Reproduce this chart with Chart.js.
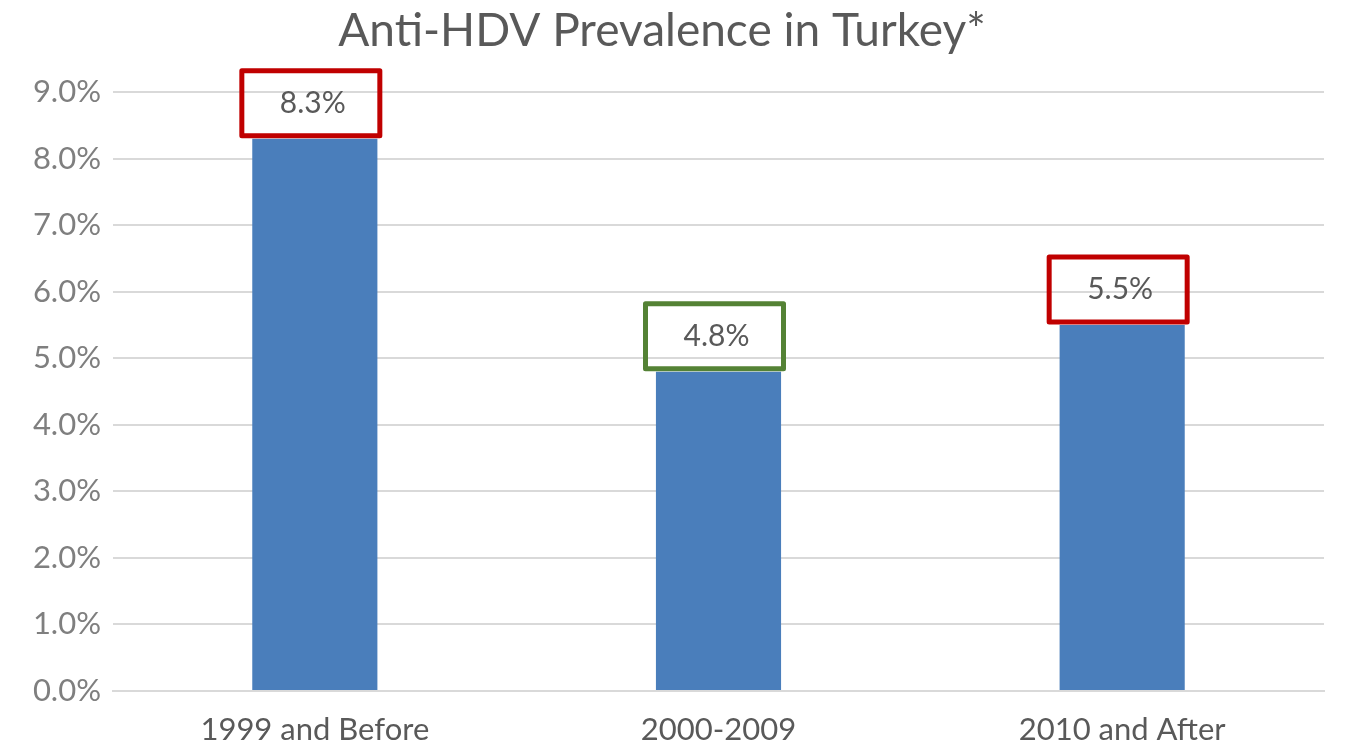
<!DOCTYPE html>
<html>
<head>
<meta charset="utf-8">
<script src="https://cdn.jsdelivr.net/npm/chart.js@4.4.0/dist/chart.umd.min.js"></script>
<style>
html,body{margin:0;padding:0;background:#fff;}
#wrap{width:1345px;height:749px;}
</style>
</head>
<body>
<div id="wrap"><canvas id="c" width="1345" height="749"></canvas></div>
<script>
const categories = ["1999 and Before", "2000-2009", "2010 and After"];
const prevalence = [8.3, 4.8, 5.5];
const boxColors = ["#c00000", "#548235", "#c00000"];
const titleText = "Anti-HDV Prevalence in Turkey*";

const labelBoxes = {
  id: 'labelBoxes',
  afterDatasetsDraw(chart) {
    const ctx = chart.ctx;
    const meta = chart.getDatasetMeta(0);
    const ys = chart.scales.y;
    ctx.save();
    meta.data.forEach((bar, i) => {
      const v = prevalence[i];
      const top = ys.getPixelForValue(v);
      const cx = bar.x - 4;
      const bw = 138, bh = 65;
      const bottom = top - 3;
      ctx.lineWidth = 5;
      ctx.strokeStyle = boxColors[i];
      ctx.lineJoin = 'round';
      ctx.strokeRect(cx - bw / 2, bottom - bh, bw, bh);
      ctx.fillStyle = '#595959';
      ctx.font = '30px Lato';
      ctx.textAlign = 'center';
      ctx.textBaseline = 'middle';
      ctx.fillText(v.toFixed(1) + '%', cx + 2, bottom - bh / 2);
    });
    ctx.restore();
  }
};

new Chart(document.getElementById('c'), {
  type: 'bar',
  data: {
    labels: categories,
    datasets: [{
      data: prevalence,
      backgroundColor: '#4a7ebb',
      borderWidth: 0,
      barPercentage: 0.31,
      categoryPercentage: 1.0
    }]
  },
  options: {
    responsive: false,
    animation: false,
    layout: { padding: { left: 0, right: 21, top: 0, bottom: 0 } },
    plugins: {
      legend: { display: false },
      tooltip: { enabled: false },
      title: {
        display: true,
        text: titleText,
        color: '#595959',
        font: { family: 'Lato', size: 46, weight: 'normal' },
        padding: { top: 4, bottom: 33 }
      }
    },
    scales: {
      x: {
        grid: { display: false },
        border: { display: true, color: '#d9d9d9', width: 2 },
        ticks: { color: '#595959', font: { family: 'Lato', size: 31 }, padding: 12 },
        afterFit(s) { s.height = 58; }
      },
      y: {
        min: 0, max: 9,
        ticks: {
          stepSize: 1,
          color: '#7f7f7f',
          font: { family: 'Lato', size: 31 },
          padding: 12,
          callback: v => v.toFixed(1) + '%'
        },
        grid: { color: '#d9d9d9', lineWidth: 2, drawTicks: false },
        border: { display: false },
        afterFit(s) { s.width = 113; }
      }
    }
  },
  plugins: [labelBoxes]
});
</script>
</body>
</html>
